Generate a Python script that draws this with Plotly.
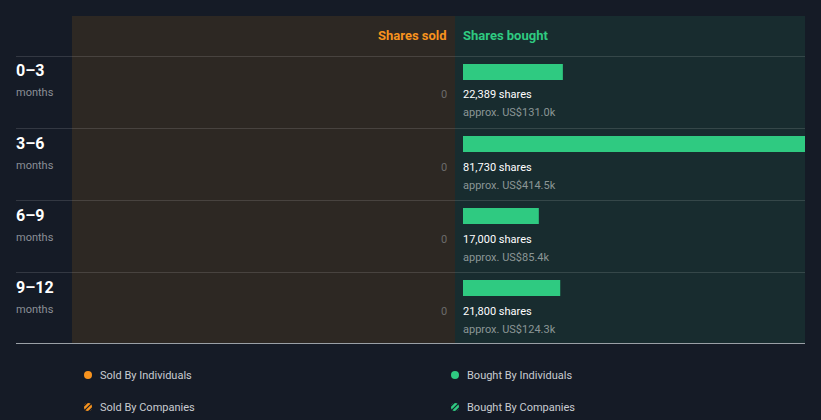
import plotly.graph_objects as go

W, H = 821, 420

periods = ["0–3", "3–6", "6–9", "9–12"]
period_unit = ["months", "months", "months", "months"]
bought_shares = [22389, 81730, 17000, 21800]
bought_value_k = [131.0, 414.5, 85.4, 124.3]
sold_shares = [0, 0, 0, 0]

BG = "#151b26"
SOLD_BG = "#2d2823"
BOUGHT_BG = "#182c2f"
GREEN = "#2fca81"
ORANGE = "#f7931e"
SEP = "rgba(255,255,255,0.13)"
FONT = "Roboto"


def px(x):
    return x / W


def py(y):
    return 1 - y / H


fig = go.Figure()

# bought bars (right panel)
fig.add_trace(go.Bar(
    x=bought_shares, y=periods, orientation="h",
    marker=dict(color=GREEN, line=dict(width=0)),
    width=16 / 72, offset=-0.5 + 8 / 72,
    xaxis="x", yaxis="y", hoverinfo="skip", showlegend=False,
))
# sold bars (left panel, all zero)
fig.add_trace(go.Bar(
    x=sold_shares, y=periods, orientation="h",
    marker=dict(color=ORANGE, line=dict(width=0)),
    width=16 / 72, offset=-0.5 + 8 / 72,
    xaxis="x2", yaxis="y", hoverinfo="skip", showlegend=False,
))

shapes = []
# panel backgrounds
shapes.append(dict(type="rect", xref="paper", yref="paper", x0=px(72), x1=px(455),
                   y0=py(343), y1=py(16), fillcolor=SOLD_BG, line=dict(width=0), layer="below"))
shapes.append(dict(type="rect", xref="paper", yref="paper", x0=px(455), x1=px(805),
                   y0=py(343), y1=py(16), fillcolor=BOUGHT_BG, line=dict(width=0), layer="below"))
# row separators
for yy in [56.5, 128.5, 200.5, 272.5]:
    shapes.append(dict(type="line", xref="paper", yref="paper", x0=px(16), x1=px(805),
                       y0=py(yy), y1=py(yy), line=dict(color=SEP, width=1), layer="below"))
shapes.append(dict(type="line", xref="paper", yref="paper", x0=px(16), x1=px(805),
                   y0=py(343.5), y1=py(343.5), line=dict(color="#9aa0a6", width=1), layer="above"))

ANN = dict(showarrow=False, borderpad=0, borderwidth=0)

annotations = []
annotations.append(dict(text="<b>Shares sold</b>", xref="paper", yref="paper", x=px(447), y=py(35),
                        xanchor="right", yanchor="middle",
                        font=dict(family=FONT, size=13, color=ORANGE), **ANN))
annotations.append(dict(text="<b>Shares bought</b>", xref="paper", yref="paper", x=px(463), y=py(35),
                        xanchor="left", yanchor="middle",
                        font=dict(family=FONT, size=13, color=GREEN), **ANN))

for i, p in enumerate(periods):
    annotations.append(dict(text="<b>%s</b>" % p, xref="paper", yref="y", x=px(16), y=p, yshift=21,
                            xanchor="left", yanchor="middle",
                            font=dict(family=FONT, size=16, color="#ffffff"), **ANN))
    annotations.append(dict(text=period_unit[i], xref="paper", yref="y", x=px(16), y=p, yshift=-1,
                            xanchor="left", yanchor="middle",
                            font=dict(family=FONT, size=11, color="#8b8f96"), **ANN))
    annotations.append(dict(text="{:,}".format(sold_shares[i]), xref="paper", yref="y", x=px(447), y=p,
                            yshift=-3, xanchor="right", yanchor="middle",
                            font=dict(family=FONT, size=11, color="#6b6b6b"), **ANN))
    annotations.append(dict(text="{:,} shares".format(bought_shares[i]), xref="paper", yref="y", x=px(463),
                            y=p, yshift=-3, xanchor="left", yanchor="middle",
                            font=dict(family=FONT, size=11, color="#ffffff"), **ANN))
    annotations.append(dict(text="approx. US${:.1f}k".format(bought_value_k[i]), xref="paper", yref="y",
                            x=px(463), y=p, yshift=-21, xanchor="left", yanchor="middle",
                            font=dict(family=FONT, size=11, color="#8b9696"), **ANN))

# legend
legend_items = [
    ("Sold By Individuals", ORANGE, False, 88, 375),
    ("Sold By Companies", ORANGE, True, 88, 407),
    ("Bought By Individuals", GREEN, False, 455, 375),
    ("Bought By Companies", GREEN, True, 455, 407),
]
for label, col, hatched, lx, ly in legend_items:
    r = 4
    shapes.append(dict(type="circle", xref="paper", yref="paper", x0=px(lx - r), x1=px(lx + r),
                       y0=py(ly + r), y1=py(ly - r), fillcolor=col, line=dict(width=0), layer="above"))
    if hatched:
        for d in [-2.5, 0, 2.5]:
            shapes.append(dict(type="line", xref="paper", yref="paper",
                               x0=px(lx - 3.2 + d), y0=py(ly + 3.2 + d),
                               x1=px(lx + 3.2 + d), y1=py(ly - 3.2 + d),
                               line=dict(color=BG, width=1.2), layer="above"))
    annotations.append(dict(text=label, xref="paper", yref="paper", x=px(lx + 12), y=py(ly),
                            xanchor="left", yanchor="middle",
                            font=dict(family=FONT, size=11, color="#c9ccd1"), **ANN))

fig.update_layout(
    width=W, height=H,
    margin=dict(l=0, r=0, t=0, b=0),
    paper_bgcolor=BG, plot_bgcolor="rgba(0,0,0,0)",
    barmode="overlay",
    xaxis=dict(domain=[px(463), px(805)], range=[0, 76680], visible=False, fixedrange=True),
    xaxis2=dict(domain=[px(72), px(447)], range=[76680, 0], visible=False, fixedrange=True),
    yaxis=dict(domain=[py(344), py(56)], range=[3.5, -0.5], type="category",
               categoryorder="array", categoryarray=periods, visible=False, fixedrange=True),
    shapes=shapes,
    annotations=annotations,
    showlegend=False,
)

fig.write_html("out.html", config={"displayModeBar": False})
